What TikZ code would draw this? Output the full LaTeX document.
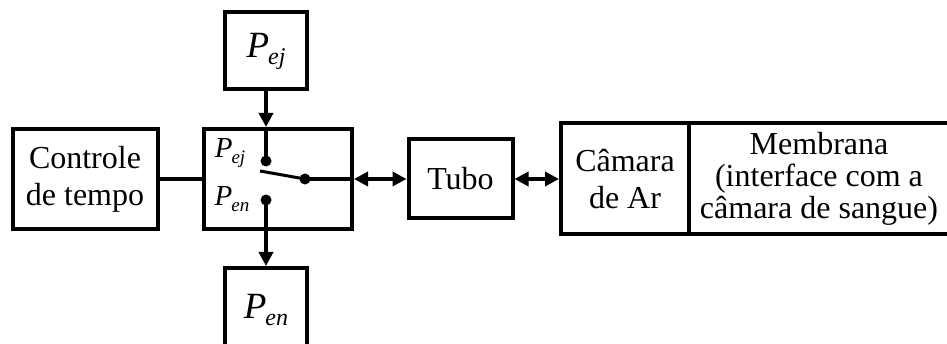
\documentclass[tikz,border=0pt]{standalone}
\usepackage{fontspec}
\setmainfont{Liberation Serif}
\usetikzlibrary{arrows.meta}
\newcommand{\Pbig}[1]{\fontsize{37}{40}\selectfont\itshape P\kern-1pt\raisebox{-7pt}{\fontsize{24}{26}\selectfont #1}}
\newcommand{\Psmall}[1]{\fontsize{29}{32}\selectfont\itshape P\kern-1pt\raisebox{-6pt}{\fontsize{19}{22}\selectfont #1}}
\tikzset{
  blk/.style={draw, line width=4pt, inner sep=0pt, align=center, font=\fontsize{32}{37}\selectfont},
  conn/.style={line width=4pt},
  arr/.style={line width=4pt, -{Triangle[length=14pt,width=14pt]}},
  dbl/.style={line width=4pt, {Triangle[length=14pt,width=14pt]}-{Triangle[length=14pt,width=14pt]}},
  dot/.style={circle, fill, inner sep=0pt, minimum size=11pt},
}
\begin{document}
\begin{tikzpicture}[x=1pt, y=-1pt]
\clip (0,0) rectangle (947,344);
\fill[white] (0,0) rectangle (947,344);
% blocks
\node[blk, minimum width=145pt, minimum height=100pt] (ctrl) at (85,179) {Controle\\de tempo};
\node[blk, minimum width=148pt, minimum height=100pt] (sw) at (278,179) {};
\node[blk, minimum width=82pt, minimum height=77pt] (pej) at (266,51) {\Pbig{ej}};
\node[blk, minimum width=82pt, minimum height=84pt] (pen) at (266,310) {\Pbig{en}};
\node[blk, minimum width=104pt, minimum height=79pt] (tubo) at (460.5,179) {Tubo};
\node[blk, minimum width=128pt, minimum height=111pt] (cam) at (625,179) {Câmara\\de Ar};
\node[blk, minimum width=260pt, minimum height=111pt, font=\fontsize{32}{32}\selectfont] (mem) at (819,179) {Membrana\\(interface com a\\câmara de sangue)};
% switch internals
\node[dot] (dej) at (266,161) {};
\node[dot] (den) at (266,200) {};
\node[dot] (piv) at (305,179) {};
\coordinate (lev) at (260,171);
\node[inner sep=0pt] (lej) at (230,153) {\Psmall{ej}};
\node[inner sep=0pt] (len) at (232,199) {\Psmall{en}};
\draw[line width=3pt] (lev) -- (piv.center);
% connectors
\draw[conn] (ctrl.east) -- (sw.west);
\draw[arr] (pej.south) -- (pej.south |- sw.north);
\draw[conn] (pej.south |- sw.north) -- (dej.center);
\draw[arr] (den.center) -- (pen.north);
\draw[conn] (piv.center) -- (sw.east |- piv);
\draw[dbl] (sw.east |- piv) -- (tubo.west);
\draw[dbl] (tubo.east) -- (cam.west);
\end{tikzpicture}
\end{document}
